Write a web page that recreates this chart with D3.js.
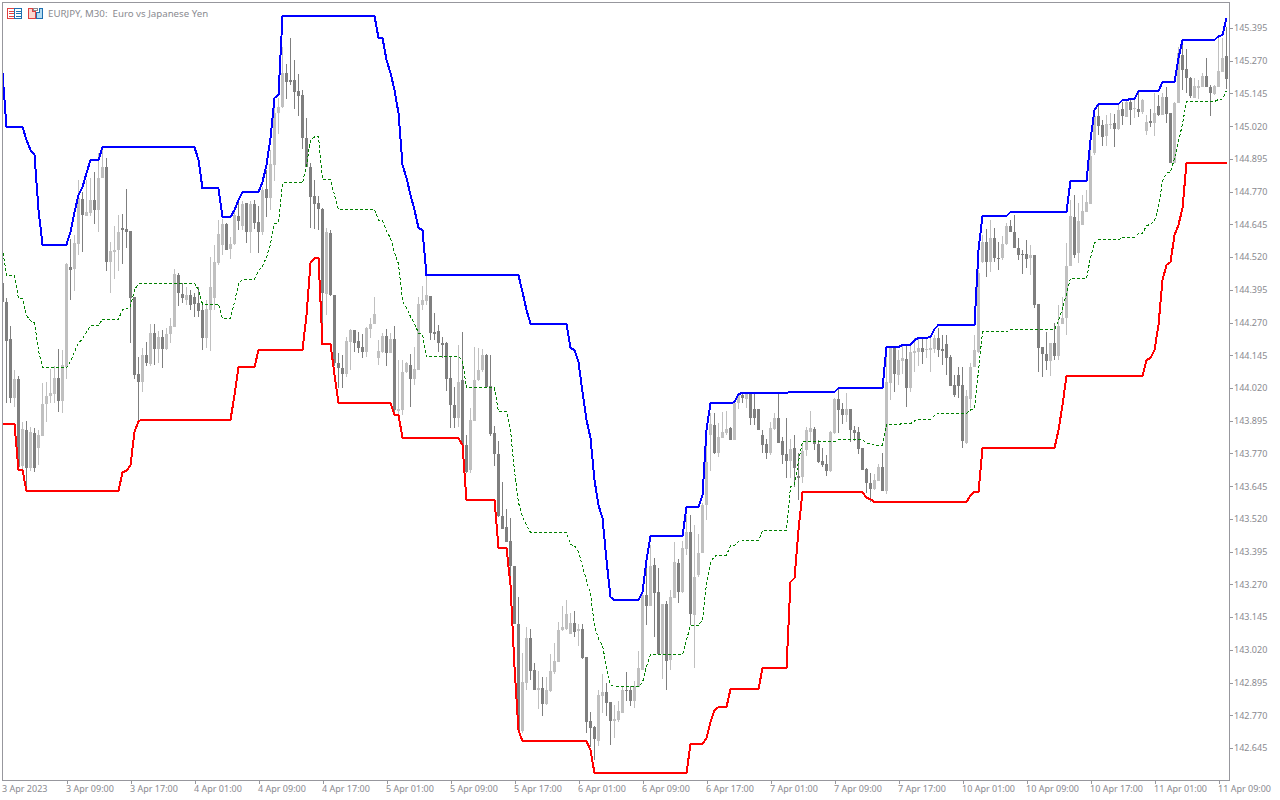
<!DOCTYPE html>
<html><head><meta charset="utf-8"><style>html,body{margin:0;padding:0;background:#fff;overflow:hidden}svg{display:block}text{font-family:"Noto Sans",sans-serif}</style>
<script src="https://cdn.jsdelivr.net/npm/d3@7/dist/d3.min.js"></script></head><body><svg id="c" width="1280" height="800"></svg>
<script>
const title="EURJPY, M30:  Euro vs Japanese Yen";
const priceTicks=[145.395,145.270,145.145,145.020,144.895,144.770,144.645,144.520,144.395,144.270,144.145,144.020,143.895,143.770,143.645,143.520,143.395,143.270,143.145,143.020,142.895,142.770,142.645];
const timeLabels=["3 Apr 2023","3 Apr 09:00","3 Apr 17:00","4 Apr 01:00","4 Apr 09:00","4 Apr 17:00","5 Apr 01:00","5 Apr 09:00","5 Apr 17:00","6 Apr 01:00","6 Apr 09:00","6 Apr 17:00","7 Apr 01:00","7 Apr 09:00","7 Apr 17:00","10 Apr 01:00","10 Apr 09:00","10 Apr 17:00","11 Apr 01:00","11 Apr 09:00"];
const opens=[144.421,144.348,144.207,143.982,144.054,143.722,143.859,143.714,143.848,143.791,
143.836,143.959,143.989,143.997,144.058,143.970,144.100,144.482,144.474,144.570,
144.742,144.677,144.688,144.738,144.700,144.822,144.864,144.501,144.539,144.547,
144.631,144.627,144.620,144.367,144.073,144.043,144.146,144.112,144.230,144.169,
144.215,144.169,144.226,144.253,144.452,144.379,144.356,144.375,144.367,144.345,
144.318,144.211,144.318,144.364,144.497,144.566,144.646,144.551,144.570,144.677,
144.639,144.727,144.616,144.723,144.654,144.616,144.780,144.746,144.872,145.070,
145.093,145.223,145.196,145.196,145.154,145.139,144.975,144.864,144.753,144.727,
144.704,144.379,144.612,144.375,144.115,144.096,144.073,144.196,144.241,144.199,
144.176,144.157,144.245,144.264,144.134,144.157,144.218,144.154,144.207,143.932,
143.936,144.081,144.108,144.054,144.089,144.337,144.352,144.371,144.234,144.238,
144.192,144.192,144.058,143.955,143.905,144.050,143.802,143.707,143.894,144.050,
144.089,144.146,144.027,143.848,143.768,143.531,143.489,143.435,143.340,143.118,
142.710,142.893,143.065,142.943,142.866,142.874,142.813,142.862,142.935,142.973,
143.095,143.099,143.080,143.122,143.092,143.099,142.992,142.748,142.725,142.671,
142.843,142.859,142.820,142.748,142.752,142.778,142.866,142.866,142.824,142.878,
142.943,143.229,143.187,143.344,143.241,143.004,143.195,142.981,143.218,143.351,
143.241,143.405,143.470,143.153,143.306,143.390,143.573,143.840,143.879,143.772,
143.829,143.848,143.867,143.821,143.963,143.993,143.978,144.001,143.940,143.940,
143.840,143.806,143.772,143.863,143.905,143.817,143.768,143.741,143.791,143.684,
143.680,143.783,143.852,143.863,143.806,143.741,143.730,143.703,143.848,143.978,
143.940,143.917,143.940,143.859,143.852,143.791,143.711,143.657,143.634,143.665,
143.718,143.626,144.039,144.173,144.070,144.123,144.131,144.020,144.154,144.157,
144.173,144.165,144.165,144.169,144.211,144.169,144.188,144.138,144.031,144.070,
144.031,143.810,143.978,144.100,144.157,144.501,144.578,144.501,144.593,144.516,
144.516,144.570,144.639,144.616,144.555,144.532,144.532,144.516,144.528,144.341,
144.176,144.150,144.123,144.192,144.142,144.264,144.287,144.486,144.673,144.536,
144.643,144.692,144.723,144.918,145.059,145.025,144.982,145.025,145.032,145.009,
145.086,145.055,145.112,145.086,145.086,145.074,145.002,145.040,145.032,145.097,
145.063,145.131,145.070,144.879,145.109,145.292,145.238,145.204,145.128,145.166,
145.170,145.212,145.170,145.143,145.170,145.227,145.288];
const highs=[144.471,144.364,144.257,144.089,144.066,143.890,143.894,143.871,143.867,143.859,
144.039,144.043,144.092,144.104,144.169,144.165,144.497,144.589,144.604,144.814,
144.769,144.814,144.822,144.845,144.918,144.929,144.898,144.578,144.639,144.681,
144.685,144.780,144.620,144.367,144.138,144.173,144.196,144.264,144.264,144.238,
144.241,144.249,144.287,144.474,144.459,144.421,144.406,144.394,144.383,144.406,
144.337,144.356,144.520,144.566,144.662,144.665,144.650,144.597,144.700,144.738,
144.734,144.727,144.734,144.738,144.715,144.788,144.853,144.929,145.128,145.128,
145.322,145.258,145.357,145.273,145.219,145.158,145.051,144.879,144.814,144.753,
144.707,144.631,144.623,144.375,144.154,144.146,144.215,144.245,144.241,144.234,
144.226,144.253,144.287,144.367,144.203,144.230,144.245,144.230,144.257,144.127,
144.127,144.119,144.150,144.176,144.367,144.409,144.452,144.371,144.306,144.260,
144.215,144.196,144.138,144.024,144.184,144.234,143.840,143.943,144.176,144.173,
144.169,144.150,144.146,143.875,143.817,143.661,143.558,143.523,143.340,143.221,
143.008,143.107,143.099,142.969,142.939,142.916,142.916,143.004,143.046,143.126,
143.187,143.210,143.160,143.168,143.118,143.118,142.992,142.782,142.729,142.866,
142.927,142.893,142.820,142.809,142.824,142.881,142.935,142.881,142.901,143.015,
143.248,143.344,143.420,143.370,143.332,143.195,143.206,143.248,143.432,143.367,
143.435,143.535,143.535,143.497,143.462,143.580,143.848,143.924,143.924,143.886,
143.928,143.932,143.871,143.966,144.001,144.001,144.001,144.001,144.001,143.940,
143.859,143.825,143.890,143.924,144.005,143.833,143.905,143.825,143.840,143.772,
143.810,143.871,143.932,143.871,143.821,143.791,143.764,143.856,143.982,144.020,
143.963,144.001,143.940,143.875,143.871,143.791,143.714,143.695,143.691,143.730,
143.772,144.177,144.173,144.173,144.165,144.188,144.188,144.192,144.211,144.215,
144.215,144.215,144.215,144.222,144.249,144.222,144.222,144.146,144.070,144.100,
144.100,144.012,144.115,144.222,144.471,144.604,144.627,144.662,144.631,144.578,
144.600,144.650,144.662,144.681,144.593,144.547,144.585,144.566,144.528,144.341,
144.176,144.234,144.192,144.268,144.337,144.367,144.574,144.738,144.757,144.727,
144.757,144.776,144.929,145.067,145.105,145.044,145.063,145.070,145.067,145.101,
145.112,145.120,145.124,145.131,145.147,145.124,145.063,145.086,145.147,145.139,
145.147,145.170,145.070,145.112,145.322,145.330,145.315,145.208,145.204,145.196,
145.223,145.280,145.177,145.177,145.361,145.357,145.399];
const lows=[144.337,143.963,143.963,143.947,143.707,143.707,143.630,143.703,143.699,143.726,
143.836,143.890,143.963,143.963,143.928,143.924,144.054,144.356,144.390,144.528,
144.539,144.677,144.677,144.646,144.616,144.822,144.467,144.383,144.436,144.467,
144.494,144.555,144.192,144.054,143.898,144.005,144.104,144.104,144.108,144.115,
144.096,144.165,144.192,144.253,144.333,144.345,144.337,144.318,144.291,144.291,
144.165,144.173,144.161,144.318,144.490,144.528,144.547,144.513,144.566,144.623,
144.623,144.574,144.536,144.627,144.536,144.604,144.673,144.700,144.811,144.990,
145.089,145.124,145.177,145.086,145.059,144.933,144.864,144.631,144.627,144.623,
144.268,144.299,144.371,144.104,144.020,144.020,144.062,144.089,144.157,144.154,
144.134,144.138,144.211,144.264,144.108,144.154,144.104,144.154,143.928,143.917,
143.917,144.077,143.947,144.031,144.089,144.318,144.337,144.203,144.203,144.157,
144.134,144.008,143.867,143.867,143.871,143.794,143.695,143.695,143.894,144.047,
144.081,144.020,143.836,143.722,143.527,143.481,143.432,143.286,143.118,142.706,
142.702,142.866,142.904,142.866,142.794,142.767,142.809,142.859,142.927,142.973,
143.092,143.095,143.080,143.069,143.034,142.985,142.702,142.648,142.599,142.652,
142.778,142.767,142.656,142.683,142.744,142.778,142.824,142.805,142.797,142.878,
142.943,143.115,143.187,143.069,143.004,142.908,142.866,142.943,143.218,143.199,
143.237,143.382,143.115,142.950,143.298,143.390,143.516,143.703,143.768,143.756,
143.829,143.840,143.821,143.821,143.940,143.963,143.943,143.879,143.879,143.859,
143.772,143.749,143.764,143.859,143.810,143.730,143.676,143.676,143.642,143.592,
143.657,143.760,143.814,143.783,143.733,143.718,143.684,143.699,143.844,143.848,
143.882,143.890,143.814,143.817,143.768,143.707,143.619,143.584,143.630,143.665,
143.626,143.615,143.974,144.005,144.031,144.073,143.947,144.005,144.081,144.104,
144.112,144.134,144.081,144.154,144.138,144.108,144.070,144.027,143.986,143.982,
143.791,143.806,143.943,144.100,144.154,144.497,144.444,144.463,144.501,144.471,
144.509,144.566,144.616,144.555,144.509,144.455,144.478,144.452,144.325,144.081,
144.062,144.089,144.066,144.127,144.127,144.264,144.222,144.486,144.516,144.497,
144.643,144.692,144.723,144.910,144.986,144.944,144.944,145.009,144.940,145.005,
145.025,145.055,145.025,145.051,145.055,145.067,144.986,145.017,144.982,145.059,
145.063,145.032,144.879,144.879,145.109,145.158,145.147,145.128,145.128,145.124,
145.170,145.170,145.059,145.139,145.170,145.227,145.162];
const closes=[144.348,144.199,143.982,144.054,143.718,143.863,143.714,143.852,143.714,143.840,
143.959,143.989,144.001,144.058,143.970,144.108,144.494,144.471,144.574,144.746,
144.681,144.692,144.738,144.700,144.822,144.864,144.501,144.543,144.547,144.616,
144.623,144.616,144.364,144.070,144.043,144.146,144.115,144.230,144.169,144.215,
144.169,144.226,144.257,144.455,144.383,144.364,144.375,144.337,144.341,144.314,
144.211,144.322,144.406,144.501,144.608,144.646,144.547,144.570,144.681,144.658,
144.723,144.616,144.723,144.650,144.616,144.776,144.746,144.876,145.070,145.093,
145.223,145.189,145.189,145.151,145.135,144.975,144.864,144.749,144.723,144.704,
144.383,144.616,144.375,144.115,144.096,144.073,144.199,144.241,144.192,144.173,
144.157,144.249,144.264,144.303,144.161,144.218,144.154,144.207,143.936,143.940,
144.081,144.115,144.054,144.092,144.341,144.356,144.375,144.230,144.226,144.192,
144.184,144.054,143.955,143.905,144.043,143.802,143.699,143.898,144.050,144.089,
144.146,144.024,143.844,143.768,143.531,143.481,143.432,143.340,143.118,142.713,
142.897,143.065,142.939,142.866,142.874,142.813,142.866,142.939,142.977,143.095,
143.107,143.157,143.122,143.088,143.099,142.988,142.744,142.721,142.679,142.847,
142.859,142.817,142.748,142.755,142.786,142.866,142.862,142.824,142.881,142.950,
143.229,143.187,143.340,143.237,143.004,143.195,142.977,143.221,143.355,143.241,
143.409,143.470,143.157,143.298,143.390,143.573,143.737,143.882,143.772,143.833,
143.852,143.863,143.821,143.963,143.993,143.982,143.997,143.905,143.905,143.859,
143.802,143.772,143.867,143.905,143.810,143.764,143.741,143.787,143.714,143.676,
143.779,143.859,143.867,143.806,143.737,143.726,143.703,143.852,143.978,143.936,
143.917,143.940,143.859,143.848,143.787,143.707,143.657,143.634,143.668,143.718,
143.626,144.043,144.173,144.073,144.127,144.134,144.020,144.157,144.161,144.173,
144.157,144.169,144.173,144.211,144.165,144.161,144.134,144.027,143.993,144.027,
143.817,143.989,144.100,144.165,144.459,144.578,144.501,144.593,144.516,144.513,
144.570,144.639,144.616,144.555,144.528,144.528,144.513,144.528,144.337,144.173,
144.150,144.123,144.192,144.142,144.257,144.287,144.486,144.677,144.528,144.658,
144.696,144.730,144.906,145.059,145.021,144.979,145.028,145.028,145.009,145.082,
145.059,145.112,145.082,145.089,145.074,145.120,145.036,145.032,145.070,145.063,
145.131,145.067,144.879,145.109,145.300,145.235,145.204,145.135,145.173,145.173,
145.212,145.170,145.147,145.173,145.231,145.280,145.200];
// channel lines, stored as [value, number of consecutive bars]
const upperRuns=[[145.223,1],[145.017,5],[144.967,1],[144.929,1],[144.910,1],[144.700,1],[144.568,7],[144.616,1],[144.692,1],[144.757,1],[144.788,1],[144.841,1],[144.891,3],[144.940,24],[144.891,1],[144.782,5],[144.673,3],[144.700,1],[144.738,1],[144.769,5],[144.807,1],[144.872,1],[144.975,1],[145.128,1],[145.139,1],[145.441,24],[145.357,2],[145.273,1],[145.223,1],[145.158,1],[145.070,1],[144.872,1],[144.822,1],[144.757,1],[144.700,1],[144.631,1],[144.623,1],[144.450,24],[144.387,1],[144.318,1],[144.266,10],[144.173,1],[144.165,1],[144.119,1],[144.005,1],[143.898,1],[143.829,1],[143.668,1],[143.573,1],[143.523,1],[143.363,1],[143.221,1],[143.210,7],[143.241,1],[143.363,1],[143.454,9],[143.565,4],[143.611,1],[143.859,1],[143.963,6],[143.966,1],[143.997,1],[144.001,12],[144.005,12],[144.020,12],[144.177,4],[144.184,3],[144.203,1],[144.211,3],[144.215,1],[144.245,1],[144.261,10],[144.547,1],[144.677,7],[144.692,15],[144.811,5],[144.967,1],[145.082,1],[145.105,6],[145.120,2],[145.124,2],[145.154,6],[145.189,4],[145.280,1],[145.349,9],[145.364,1],[145.368,1],[145.433,1]];
const lowerRuns=[[143.882,4],[143.707,2],[143.626,24],[143.699,1],[143.703,1],[143.726,1],[143.852,1],[143.894,1],[143.898,23],[143.993,1],[144.100,5],[144.165,12],[144.299,1],[144.497,1],[144.516,2],[144.188,3],[144.070,1],[143.963,14],[143.917,2],[143.829,15],[143.802,1],[143.592,8],[143.409,3],[143.267,1],[142.954,1],[142.713,1],[142.671,17],[142.637,1],[142.549,24],[142.660,4],[142.683,1],[142.744,1],[142.790,1],[142.801,3],[142.870,8],[142.950,7],[143.279,1],[143.294,1],[143.477,1],[143.623,16],[143.600,1],[143.596,1],[143.584,24],[143.611,1],[143.623,2],[143.791,19],[143.859,1],[143.955,1],[144.066,20],[144.127,1],[144.134,1],[144.165,1],[144.261,1],[144.432,1],[144.490,1],[144.501,1],[144.604,1],[144.643,1],[144.707,1],[144.879,11]];
const middleRuns=[[144.553,1],[144.450,3],[144.362,2],[144.297,1],[144.278,1],[144.268,1],[144.163,1],[144.097,7],[144.121,1],[144.159,1],[144.192,1],[144.207,1],[144.234,1],[144.259,3],[144.283,5],[144.320,1],[144.322,1],[144.333,1],[144.396,1],[144.417,1],[144.419,14],[144.395,1],[144.340,5],[144.286,3],[144.347,1],[144.419,1],[144.435,4],[144.467,1],[144.486,1],[144.519,1],[144.570,1],[144.647,1],[144.652,1],[144.803,6],[144.870,1],[144.969,1],[144.979,2],[144.815,3],[144.756,1],[144.702,10],[144.660,2],[144.618,1],[144.593,1],[144.538,1],[144.494,1],[144.351,1],[144.326,1],[144.293,1],[144.265,1],[144.230,1],[144.226,1],[144.140,9],[144.126,1],[144.021,8],[143.930,3],[143.859,1],[143.702,1],[143.582,1],[143.529,1],[143.495,1],[143.469,10],[143.422,1],[143.418,1],[143.395,1],[143.338,1],[143.285,1],[143.233,1],[143.109,1],[143.061,1],[143.036,1],[142.956,1],[142.885,1],[142.880,7],[142.895,1],[142.956,1],[143.002,9],[143.057,1],[143.113,3],[143.136,1],[143.271,1],[143.354,1],[143.377,1],[143.382,3],[143.417,1],[143.418,1],[143.434,1],[143.436,5],[143.476,7],[143.642,1],[143.650,1],[143.741,1],[143.814,9],[143.822,7],[143.810,1],[143.808,1],[143.802,3],[143.881,4],[143.884,3],[143.894,1],[143.898,3],[143.900,1],[143.915,1],[143.923,8],[143.936,1],[143.942,1],[144.085,1],[144.234,7],[144.242,12],[144.276,1],[144.324,1],[144.379,1],[144.439,5],[144.517,1],[144.574,1],[144.586,6],[144.593,2],[144.595,2],[144.610,2],[144.641,1],[144.644,1],[144.660,1],[144.708,1],[144.811,1],[144.840,1],[144.845,1],[144.897,1],[144.962,1],[145.028,1],[145.114,8],[145.122,1],[145.124,1],[145.156,1]];

const expand=runs=>runs.flatMap(([v,n])=>Array(n).fill(v));
const upper=expand(upperRuns), lower=expand(lowerRuns), middle=expand(middleRuns);
const W=1280,H=800,L=2,T=2,R=1229,B=780;
const n=opens.length, tickEvery=16;
const x=d3.scaleLinear().domain([0,n-1]).range([2.5,2.5+4*(n-1)]);
const y=d3.scaleLinear().domain([142.645,145.395]).range([748,28]);
const axisColor="#97979d", textColor="#8a8a90", dark="#7f7f7f", light="#c0c0c0";
const svg=d3.select("#c");
const defs=svg.append("defs");
defs.append("clipPath").attr("id","plot").append("rect").attr("x",L+1).attr("y",T+1).attr("width",R-L-1).attr("height",B-T-1);
const plot=svg.append("g").attr("clip-path","url(#plot)");
const idx=d3.range(n);
const candles=plot.append("g").attr("shape-rendering","crispEdges");
const col=i=>closes[i]>=opens[i]?light:dark;
candles.selectAll("line").data(idx).join("line")
 .attr("x1",x).attr("x2",x)
 .attr("y1",i=>Math.round(y(highs[i]))).attr("y2",i=>Math.round(y(lows[i])))
 .attr("stroke",col).attr("stroke-width",1);
candles.selectAll("rect").data(idx).join("rect")
 .attr("x",i=>x(i)-1.5).attr("width",3)
 .attr("y",i=>Math.round(y(Math.max(opens[i],closes[i]))))
 .attr("height",i=>Math.max(1,Math.round(y(Math.min(opens[i],closes[i])))-Math.round(y(Math.max(opens[i],closes[i])))))
 .attr("fill",col);
const line=d3.line().x((d,i)=>x(i)).y(d=>y(d));
plot.append("path").datum(middle).attr("d",line).attr("fill","none").attr("stroke","#008000").attr("stroke-width",1).attr("stroke-dasharray","3,2").attr("shape-rendering","crispEdges");
plot.append("path").datum(lower).attr("d",line).attr("fill","none").attr("stroke","#ff0000").attr("stroke-width",2).attr("shape-rendering","crispEdges");
plot.append("path").datum(upper).attr("d",line).attr("fill","none").attr("stroke","#0000ff").attr("stroke-width",2).attr("shape-rendering","crispEdges");
// frame
svg.append("path").attr("d",`M${L+.5},${B}V${T+.5}H${R+.5}`).attr("fill","none").attr("stroke",axisColor).attr("shape-rendering","crispEdges");
// axes
const yAxis=d3.axisRight(y).tickValues(priceTicks).tickFormat(d3.format(".3f")).tickSize(4).tickPadding(1);
const gy=svg.append("g").attr("transform",`translate(${R},0)`).call(yAxis);
gy.select(".domain").attr("d",`M0.5,${T}V${B+1}`);
const xTickIdx=timeLabels.map((_,i)=>i*tickEvery);
const xAxis=d3.axisBottom(x).tickValues(xTickIdx).tickFormat((d,i)=>timeLabels[i]).tickSize(4).tickPadding(2);
const gx=svg.append("g").attr("transform",`translate(0,${B})`).call(xAxis);
gx.select(".domain").attr("d",`M${L},0.5H${R+1}`);
gx.selectAll(".tick text").attr("text-anchor","start").attr("dx",-1);
gx.selectAll(".tick").filter((d,i)=>i===0).select("line").remove();
for(const g of [gx,gy]){g.selectAll(".domain,.tick line").attr("stroke",axisColor).attr("shape-rendering","crispEdges");
 g.selectAll("text").attr("fill",textColor).attr("font-family",'"Noto Sans",sans-serif').attr("font-size",9);}
// title and toolbar icons
svg.append("text").attr("x",48).attr("y",17).attr("fill",textColor).attr("font-size",9.7).attr("xml:space","preserve").style("white-space","pre").text(title);
const ic=svg.append("g").attr("shape-rendering","crispEdges").attr("fill","none");
ic.append("rect").attr("x",7.5).attr("y",8.5).attr("width",7).attr("height",10).attr("stroke","#e04040");
ic.append("rect").attr("x",14.5).attr("y",8.5).attr("width",7).attr("height",10).attr("stroke","#1e6fb0");
[11,13.5,16].forEach(v=>{ic.append("path").attr("d",`M9,${Math.floor(v)}.5H14`).attr("stroke","#e04040").attr("stroke-width",1);
 ic.append("path").attr("d",`M16,${Math.floor(v)}.5H21`).attr("stroke","#1e6fb0").attr("stroke-width",1);});
ic.append("path").attr("d","M28.5,8.5H32.5V11.5H35.5V18.5H28.5Z").attr("stroke","#e04040").attr("fill","#fbd7d0");
ic.append("path").attr("d","M36.5,18.5H42.5V8.5H39.5V12.5H36.5Z").attr("stroke","#1e6fb0").attr("fill","#b5dcf2");
ic.append("rect").attr("x",33.5).attr("y",8.5).attr("width",4).attr("height",2).attr("stroke","#8a8a90");
</script></body></html>
